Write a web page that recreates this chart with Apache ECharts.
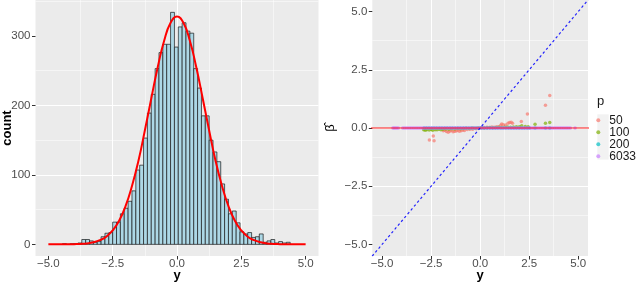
<!DOCTYPE html>
<html>
<head>
<meta charset="utf-8">
<script src="https://cdn.jsdelivr.net/npm/echarts@6/dist/echarts.min.js"></script>
<style>
html,body{margin:0;padding:0;background:#fff;}
#c{width:640px;height:283px;}
</style>
</head>
<body>
<div id="c"></div>
<script>
// ---- Left panel: histogram of y ----
const binStart = -4.45;
const binWidth = 0.15;
const histCounts = [1,0,1,1,2,7,7,5,3,4,11,16,17,32,32,44,52,62,77,107,114,153,189,216,253,276,288,288,334,284,313,319,307,304,253,225,185,185,150,133,119,87,65,44,48,31,18,15,17,10,11,15,3,5,7,2,4,2,3];

// fitted normal curve
const curveX = [-5,-4.75,-4.5,-4.25,-4,-3.75,-3.5,-3.25,-3,-2.75,-2.5,-2.25,-2,-1.75,-1.5,-1.25,-1,-0.75,-0.5,-0.25,0,0.25,0.5,0.75,1,1.25,1.5,1.75,2,2.25,2.5,2.75,3,3.25,3.5,3.75,4,4.25,4.5,4.75,5];
const curveY = [0,0,0,0.1,0.3,0.6,1.4,3,6,11,20,34,55,84,120,164,210,255,293,319,328,319,293,255,210,164,120,84,55,34,20,11,6,3,1.4,0.6,0.3,0.1,0,0,0];

// ticks
const symTicks = [-5,-2.5,0,2.5,5];
const symMinor = [-3.75,-1.25,1.25,3.75];
const countTicks = [0,100,200,300];
const countMinor = [50,150,250,350];

// ---- Right panel: beta-hat vs y, by p ----
const pLevels = ['50','100','200','6033'];
const pts50 = [[-2.59,-0.52],[-2.39,-0.34],[-2.35,-0.55],[-1.88,-0.12],[-1.8,-0.1],[-1.72,-0.15],[-1.63,-0.18],[-1.55,-0.14],[-1.47,-0.11],[-1.38,-0.16],[-1.3,-0.14],[-1.22,-0.13],[-1.14,-0.1],[-1.06,-0.14],[-0.97,-0.12],[-0.88,-0.09],[-0.8,-0.11],[-0.66,-0.06],[-0.52,-0.05],[-0.38,-0.05],[-0.2,-0.03],[0.05,0.01],[0.2,0.02],[0.35,0.03],[0.48,0.02],[0.6,0.04],[0.72,0.03],[0.85,0.05],[0.95,0.04],[1.05,0.12],[1.1,0.17],[1.18,0.14],[1.3,0.13],[1.42,0.2],[1.5,0.24],[1.58,0.25],[1.65,0.2],[2.1,0.28],[2.41,0.6],[3.33,0.98],[3.55,1.4]];
const pts100 = [[-2.88,-0.08],[-2.8,-0.1],[-2.72,-0.07],[-2.6,-0.09],[-2.5,-0.06],[-2.42,-0.1],[-2.3,-0.07],[-2.2,-0.08],[-2.1,-0.05],[-2.0,-0.07],[-1.9,-0.05],[-1.75,-0.04],[-1.6,-0.05],[-1.45,-0.03],[-1.3,-0.04],[-1.15,-0.02],[-1.0,-0.03],[-0.85,-0.02],[-0.7,-0.01],[-0.55,-0.02],[-0.4,0],[-0.25,-0.01],[-0.1,0],[0.05,0.01],[0.2,0],[0.35,0.01],[0.5,0.02],[0.65,0.01],[0.8,0.02],[0.95,0.03],[1.1,0.02],[1.25,0.03],[1.4,0.04],[1.55,0.03],[1.7,0.04],[1.85,0.05],[2.0,0.05],[2.12,0.1],[2.3,0.06],[2.45,0.05],[2.8,0.16],[3.33,0.2],[3.55,0.24]];
const pts200 = [[-2.86,0],[-2.74,0],[-2.61,0],[-2.47,0],[-2.35,0],[-2.22,0],[-2.08,0],[-1.95,0],[-1.81,0],[-1.68,0],[-1.54,0],[-1.41,0],[-1.27,0],[-1.13,0],[-1.0,0],[-0.86,0],[-0.73,0],[-0.59,0],[-0.46,0],[-0.32,0],[-0.18,0],[-0.05,0],[0.09,0],[0.22,0],[0.36,0],[0.5,0],[0.63,0],[0.77,0],[0.9,0],[1.04,0],[1.17,0],[1.31,0],[1.45,0],[1.58,0],[1.72,0],[1.85,0],[1.99,0],[2.13,0],[2.26,0],[2.4,0],[2.52,0],[2.8,0],[3.33,0],[3.55,0]];
const pts6033 = [[-4.45,0],[-4.39,0],[-4.32,0],[-4.25,0],[-4.17,0],[-3.95,0],[-3.86,0],[-3.77,0],[-3.68,0],[-3.59,0],[-3.5,0],[-3.41,0],[-3.32,0],[-3.23,0],[-3.14,0],[-3.05,0],[-2.96,0],[-2.87,0],[-2.78,0],[-2.69,0],[-2.6,0],[-2.51,0],[-2.42,0],[-2.33,0],[-2.24,0],[-2.15,0],[-2.06,0],[-1.97,0],[-1.88,0],[-1.79,0],[-1.7,0],[-1.61,0],[-1.52,0],[-1.43,0],[-1.34,0],[-1.25,0],[-1.16,0],[-1.07,0],[-0.98,0],[-0.89,0],[-0.8,0],[-0.71,0],[-0.62,0],[-0.53,0],[-0.44,0],[-0.35,0],[-0.26,0],[-0.17,0],[-0.08,0],[0.01,0],[0.1,0],[0.19,0],[0.28,0],[0.37,0],[0.46,0],[0.55,0],[0.64,0],[0.73,0],[0.82,0],[0.91,0],[1.0,0],[1.09,0],[1.18,0],[1.27,0],[1.36,0],[1.45,0],[1.54,0],[1.63,0],[1.72,0],[1.81,0],[1.9,0],[1.99,0],[2.08,0],[2.17,0],[2.26,0],[2.35,0],[2.44,0],[2.53,0],[2.62,0],[2.71,0],[2.8,0],[2.89,0],[2.98,0],[3.07,0],[3.16,0],[3.25,0],[3.34,0],[3.43,0],[3.52,0],[3.61,0],[3.7,0],[3.79,0],[3.88,0],[3.97,0],[4.06,0],[4.15,0],[4.24,0],[4.33,0],[4.42,0],[4.51,0],[4.6,0],[4.84,0]];
const hlinePts = [[-6,0],[6,0]];
const ablinePts = [[-6,-6],[6,6]];

const pColors = ['rgba(248,118,109,0.85)','rgba(124,174,0,0.85)','rgba(0,191,196,0.85)','rgba(199,124,255,0.85)'];

const FONT = '"Liberation Sans", Arial, Helvetica, sans-serif';
const fmtSym = v => (v < 0 ? '\u2212' : '') + Math.abs(v).toFixed(1);

function valueAxis(gridIndex, min, max, step, ticks, fmt, labelMargin, extra) {
  return Object.assign({
    type: 'value', gridIndex, min, max,
    minInterval: step, maxInterval: step, splitNumber: 4,
    z: 1,
    nameMoveOverlap: false,
    axisLine: {show: false, onZero: false},
    axisTick: {show: true, length: 3.5, customValues: ticks, lineStyle: {color: '#333333', width: 1}},
    axisLabel: {show: true, customValues: ticks, color: '#4D4D4D', fontSize: 11.5, fontFamily: FONT, formatter: fmt, margin: labelMargin},
    splitLine: {show: true, showMinLine: false, showMaxLine: false, lineStyle: {color: '#FFFFFF', width: 1.1}},
    nameTextStyle: {color: '#000', fontFamily: FONT}
  }, extra || {});
}

const xName = {name: 'y', nameLocation: 'middle', nameGap: 13, nameTextStyle: {color: '#000', fontSize: 13, fontWeight: 'bold', fontFamily: FONT, verticalAlign: 'top'}};

const chart = echarts.init(document.getElementById('c'), null, {renderer: 'canvas'});
const option = {
  animation: false,
  backgroundColor: '#FFFFFF',
  textStyle: {fontFamily: FONT},
  grid: [
    {left: 35.5, top: 0, width: 283, height: 256, show: true, backgroundColor: '#EBEBEB', borderWidth: 0, containLabel: false, outerBoundsMode: 'none'},
    {left: 372.3, top: 0, width: 215.7, height: 256, show: true, backgroundColor: '#EBEBEB', borderWidth: 0, containLabel: false, outerBoundsMode: 'none'}
  ],
  xAxis: [
    valueAxis(0, -5.5, 5.5, 2.5, symTicks, fmtSym, 2, xName),
    valueAxis(1, -5.5, 5.5, 2.5, symTicks, fmtSym, 2, xName)
  ],
  yAxis: [
    valueAxis(0, -16.75, 351.75, 100, countTicks, v => String(v), 5, {name: 'count', nameLocation: 'middle', nameGap: 22, nameTextStyle: {color: '#000', fontSize: 13, fontWeight: 'bold', fontFamily: FONT}}),
    valueAxis(1, -5.5, 5.5, 2.5, symTicks, fmtSym, 5, {name: '\u03B2\u0302', nameLocation: 'middle', nameGap: 35, nameTextStyle: {color: '#000', fontSize: 13, fontFamily: FONT}})
  ],
  title: {text: 'p', left: 597, top: 95, padding: 0, textStyle: {fontSize: 13, fontWeight: 'normal', color: '#1A1A1A', fontFamily: FONT}},
  legend: {
    data: pLevels, orient: 'vertical', left: 596.3, top: 114.3, padding: 0,
    itemWidth: 12, itemHeight: 4, itemGap: 0, icon: 'circle',
    textStyle: {fontSize: 12, color: '#1A1A1A', fontFamily: FONT, lineHeight: 11.33, padding: [0, 0, 0, 0]},
    selectedMode: false
  },
  graphic: [
    {type: 'rect', z: 0, shape: {x: 597.3, y: 114.3, width: 11.4, height: 45.3}, style: {fill: '#F2F2F2'}}
  ],
  series: [
    {
      type: 'line', xAxisIndex: 0, yAxisIndex: 0, data: [], silent: true, z: 1,
      markLine: {silent: true, z: 1, symbol: 'none', animation: false, label: {show: false},
        lineStyle: {color: '#FFFFFF', width: 0.5, type: 'solid'},
        data: symMinor.map(v => ({xAxis: v})).concat(countMinor.map(v => ({yAxis: v})))}
    },
    {
      type: 'line', xAxisIndex: 1, yAxisIndex: 1, data: [], silent: true, z: 1,
      markLine: {silent: true, z: 1, symbol: 'none', animation: false, label: {show: false},
        lineStyle: {color: '#FFFFFF', width: 0.5, type: 'solid'},
        data: symMinor.map(v => ({xAxis: v})).concat(symMinor.map(v => ({yAxis: v})))}
    },
    {
      type: 'custom', xAxisIndex: 0, yAxisIndex: 0, z: 2,
      data: histCounts.map((c, i) => [binStart + i * binWidth, binStart + (i + 1) * binWidth, c]),
      renderItem: function (params, api) {
        const p0 = api.coord([api.value(0), 0]);
        const p1 = api.coord([api.value(1), api.value(2)]);
        return {type: 'rect', shape: {x: p0[0], y: p1[1], width: p1[0] - p0[0], height: p0[1] - p1[1]},
          style: {fill: '#ADD8E6', stroke: '#1A1A1A', lineWidth: 0.7}};
      }
    },
    {
      type: 'line', xAxisIndex: 0, yAxisIndex: 0, z: 3, smooth: true, showSymbol: false, symbol: 'none',
      data: curveX.map((x, i) => [x, curveY[i]]),
      lineStyle: {color: '#FF0000', width: 2}
    },
    {name: '50', type: 'scatter', xAxisIndex: 1, yAxisIndex: 1, data: pts50, symbolSize: 3.5, itemStyle: {color: pColors[0]}, z: 2},
    {name: '100', type: 'scatter', xAxisIndex: 1, yAxisIndex: 1, data: pts100, symbolSize: 3.5, itemStyle: {color: pColors[1]}, z: 2},
    {name: '200', type: 'scatter', xAxisIndex: 1, yAxisIndex: 1, data: pts200, symbolSize: 3.5, itemStyle: {color: pColors[2]}, z: 2},
    {name: '6033', type: 'scatter', xAxisIndex: 1, yAxisIndex: 1, data: pts6033, symbolSize: 3.5, itemStyle: {color: pColors[3]}, z: 2},
    {
      type: 'line', xAxisIndex: 1, yAxisIndex: 1, z: 3, showSymbol: false, symbol: 'none', clip: true,
      data: hlinePts, lineStyle: {color: 'rgba(255,0,0,0.6)', width: 1.3}
    },
    {
      type: 'line', xAxisIndex: 1, yAxisIndex: 1, z: 4, showSymbol: false, symbol: 'none', clip: true,
      data: ablinePts, lineStyle: {color: 'rgba(0,0,255,0.85)', width: 1.2, type: [2.5, 2.5]}
    }
  ]
};
chart.setOption(option);
</script>
</body>
</html>
